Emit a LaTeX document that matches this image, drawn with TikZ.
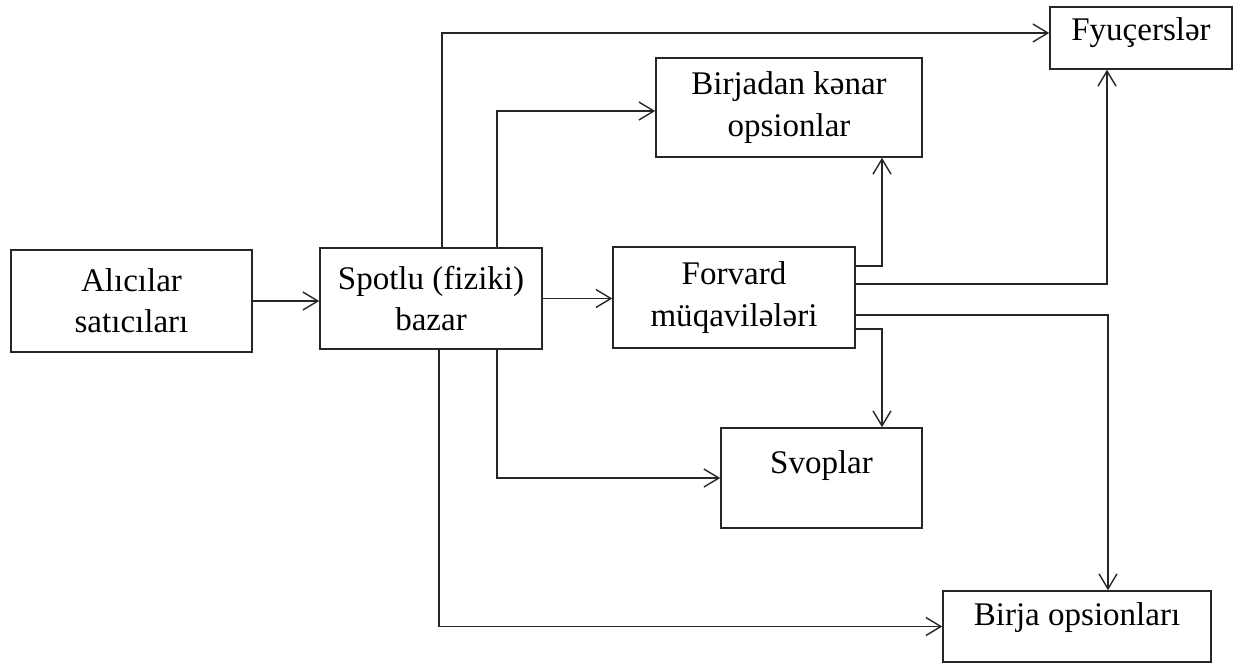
\documentclass[tikz,border=0pt]{standalone}
\usepackage{fontspec}
\setmainfont{Liberation Serif}
\usetikzlibrary{arrows.meta}

\begin{document}
\begin{tikzpicture}[x=0.02cm,y=-0.02cm,>={Straight Barb[length=0.3cm,width=0.36cm]},
    market/.style ={rectangle, draw=black!85, line width=0.9pt, inner sep=0pt, align=center, font=\fontsize{18.8}{23.4}\selectfont},
    link/.style ={->, draw=black!85, line width=0.8pt}]
   \useasboundingbox (0,0) rectangle (1240,666);
   \node[market, minimum width=4.82cm, minimum height=2.04cm] (A)  at (131.5,301)  {Alıcılar\\satıcıları};
   \node[market, minimum width=4.44cm, minimum height=2.02cm] (S)  at (431,298.5)  {Spotlu (fiziki)\\bazar};
   \node[market, minimum width=4.84cm, minimum height=2.02cm] (F)  at (734,297.5)  {Forvard\\müqavilələri};
   \node[market, minimum width=5.32cm, minimum height=1.98cm] (K)  at (789,107.5)  {Birjadan kənar\\opsionlar};
   \node[market, minimum width=3.64cm, text height=0.66cm, text depth=0.58cm] (Fy) at (1141,38) {Fyuçerslər};
   \node[market, minimum width=4.02cm, text height=0.9cm, text depth=1.1cm] (Sv) at (821.5,478) {Svoplar};
   \node[market, minimum width=5.36cm, text height=0.68cm, text depth=0.74cm] (B) at (1077,626.5) {Birja opsionları};
   \draw[link] (A.east) -- (A.east -| S.west);
   \draw[link] (S.east) -- (S.east -| F.west);
   \draw[link] ([xshift=0.22cm]S.north) |- ([yshift=0.1cm]Fy.west);
   \draw[link] ([xshift=1.32cm]S.north) |- ([yshift=-0.07cm]K.west);
   \draw[link] ([xshift=1.32cm]S.south) |- (Sv.west);
   \draw[link] ([xshift=0.16cm]S.south) |- (B.west);
   \draw[link] ([yshift=0.63cm]F.east) -| ([xshift=1.86cm]K.south);
   \draw[link] ([yshift=0.27cm]F.east) -| ([xshift=-0.68cm]Fy.south);
   \draw[link] ([yshift=-0.35cm]F.east) -| ([xshift=0.62cm]B.north);
   \draw[link] ([yshift=-0.63cm]F.east) -| ([xshift=1.21cm]Sv.north);
\end{tikzpicture}
\end{document}
